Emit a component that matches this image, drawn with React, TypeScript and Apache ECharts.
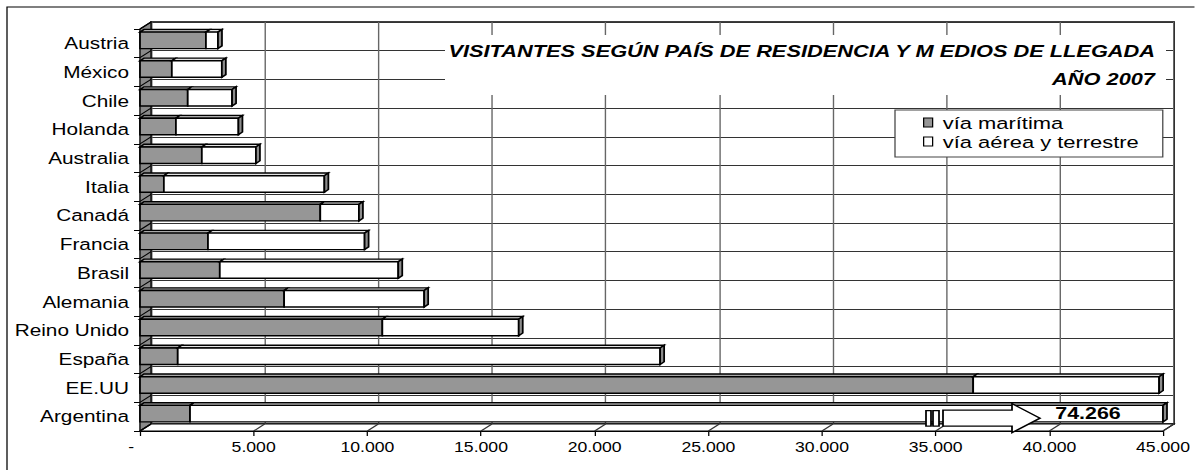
import React, { useEffect, useRef } from 'react';
import * as echarts from 'echarts';

// The reference rendering is horizontally stretched; reproduce with a CSS scaleX.
const S = 1.26;
const W = 1195;
const H = 470;
const CW = W / S;
const px = (X: number) => X / S; // reference x-pixels -> chart units

const FONT = '"Liberation Sans", Arial, Helvetica, sans-serif';

const categories = [
  'Austria', 'México', 'Chile', 'Holanda', 'Australia', 'Italia', 'Canadá',
  'Francia', 'Brasil', 'Alemania', 'Reino Unido', 'España', 'EE.UU', 'Argentina',
];
const maritime = [2900, 1400, 2100, 1580, 2720, 1050, 7930, 2990, 3510, 6340, 10660, 1660, 36650, 2200];
const airLand = [530, 2200, 1950, 2750, 2380, 7060, 1700, 6890, 7850, 6160, 6000, 21220, 8180, 72066];
const xTicks = [0, 5000, 10000, 15000, 20000, 25000, 30000, 35000, 40000, 45000];
const xMin = 0;
const xMax = 45000;
const xInterval = 5000;
const seriesNames = ['vía marítima', 'vía aérea y terrestre'];
const titleLines = ['VISITANTES SEGÚN PAÍS DE RESIDENCIA Y M EDIOS DE LLEGADA', 'AÑO 2007'];

const GRAY = '#969696';
const fmt = (v: number) => String(Math.round(v)).replace(/\B(?=(\d{3})+(?!\d))/g, '.');

// geometry (chart units)
const DX = px(11);
const DY = -7;
const BDX = px(4);
const BDY = -2.7;
const BAR_H = 16.5;
const BAR_SHIFT = -3;

export default function App() {
  const ref = useRef<HTMLDivElement>(null);

  useEffect(() => {
    if (!ref.current) return;
    const chart = echarts.init(ref.current, undefined, { renderer: 'svg' });

    const segData = maritime.map((m, i) => [0, m, i]);
    const airData = maritime.map((m, i) => [m, m + airLand[i], i]);

    const makeBar = (fill: string, topFill: string, isLast: boolean) =>
      (params: any, api: any) => {
        const v0 = api.value(0);
        const v1 = api.value(1);
        const i = api.value(2);
        const p0 = api.coord([v0, i]);
        const p1 = api.coord([Math.min(v1, xMax), i]);
        const yc = p0[1] + BAR_SHIFT;
        const yt = yc - BAR_H / 2;
        const yb = yc + BAR_H / 2;
        const x0 = p0[0];
        const x1 = p1[0];
        const stroke = { stroke: '#000', lineWidth: 1.4 };
        const children: any[] = [
          {
            type: 'polygon',
            shape: { points: [[x0, yt], [x1, yt], [x1 + BDX, yt + BDY], [x0 + BDX, yt + BDY]] },
            style: { fill: topFill, ...stroke },
          },
          { type: 'rect', shape: { x: x0, y: yt, width: x1 - x0, height: BAR_H }, style: { fill, ...stroke } },
        ];
        if (isLast) {
          children.push({
            type: 'polygon',
            shape: { points: [[x1, yt], [x1 + BDX, yt + BDY], [x1 + BDX, yb + BDY], [x1, yb]] },
            style: { fill: '#8c8c8c', ...stroke },
          });
          if (v1 > xMax) {
            const ay = p0[1] + 1.5;
            const xs = x1 - px(220);
            const xh = x1 - px(151);
            const xt = x1 - px(123);
            children.push(
              { type: 'rect', shape: { x: x1 - px(237), y: ay - 7.5, width: px(5), height: 15.5 }, style: { fill: '#fff', ...stroke } },
              { type: 'rect', shape: { x: x1 - px(230), y: ay - 7.5, width: px(6), height: 15.5 }, style: { fill: '#fff', ...stroke } },
              {
                type: 'polygon',
                shape: {
                  points: [[xs, ay - 8], [xh, ay - 8], [xh, ay - 14.5], [xt, ay], [xh, ay + 14.5], [xh, ay + 8], [xs, ay + 8]],
                },
                style: { fill: '#fff', ...stroke },
              },
              {
                type: 'text',
                style: {
                  text: fmt(v1),
                  x: x1 - px(75),
                  y: yc,
                  align: 'center',
                  verticalAlign: 'middle',
                  font: `bold 17px ${FONT}`,
                  fill: '#000',
                },
              },
            );
          }
        }
        return { type: 'group', children };
      };

    const option: any = {
      animation: false,
      backgroundColor: '#fff',
      grid: [
        { left: px(140), top: 29, width: px(1023), height: 402, containLabel: false },
        {
          left: px(151), top: 22, width: px(1023), height: 402, show: true,
          backgroundColor: '#fff', borderColor: '#000', borderWidth: 1.5,
        },
      ],
      xAxis: [
        {
          type: 'value', gridIndex: 0, min: xMin, max: xMax, interval: xInterval,
          axisLine: { show: true, lineStyle: { color: '#000', width: 1.2 } },
          axisTick: { show: true, length: 5, lineStyle: { color: '#000' } },
          splitLine: { show: false },
          axisLabel: {
            margin: 9, color: '#000', fontSize: 14, fontFamily: FONT,
            formatter: (v: number) => (v === 0 ? '{d|-}' : fmt(v)),
            rich: { d: { fontSize: 14, fontFamily: FONT, color: '#000', padding: [0, 14, 0, 0] } },
          },
        },
        {
          type: 'value', gridIndex: 1, min: xMin, max: xMax, interval: xInterval,
          axisLine: { show: false }, axisTick: { show: false }, axisLabel: { show: false },
          splitLine: { show: true, lineStyle: { color: '#666', width: 1.1 } },
        },
      ],
      yAxis: [
        {
          type: 'category', gridIndex: 0, data: categories, inverse: true,
          axisLine: { show: true, lineStyle: { color: '#000', width: 1.2 } },
          axisTick: { show: true, length: px(6), lineStyle: { color: '#000' } },
          axisLabel: { margin: px(11), color: '#000', fontSize: 16.5, fontFamily: FONT },
          splitLine: { show: false },
        },
        {
          type: 'category', gridIndex: 1, data: categories, inverse: true,
          axisLine: { show: false }, axisTick: { show: false }, axisLabel: { show: false },
          splitLine: { show: true, lineStyle: { color: '#333', width: 1 } },
        },
      ],
      legend: {
        data: seriesNames,
        orient: 'vertical',
        left: px(895),
        top: 110,
        padding: [3, px(24), 6, px(28)],
        itemGap: 0,
        itemWidth: px(9),
        itemHeight: 9,
        icon: 'rect',
        backgroundColor: '#fff',
        borderColor: '#444',
        borderWidth: 1,
        borderRadius: 0,
        selectedMode: false,
        itemStyle: { borderColor: '#000', borderWidth: 1 },
        textStyle: { fontSize: 17.4, lineHeight: 19, color: '#000', fontFamily: FONT, padding: [0, 0, 0, 3] },
      },
      graphic: [
        {
          type: 'rect', z: 0, silent: true,
          shape: { x: px(7), y: 7, width: 1400, height: 700 },
          style: { fill: 'none', stroke: '#000', lineWidth: 1 },
        },
        {
          type: 'rect', z: 10, silent: true,
          shape: { x: px(445), y: 35, width: px(1166 - 445), height: 60 },
          style: { fill: '#fff' },
        },
        {
          type: 'text', z: 11, silent: true,
          style: {
            text: titleLines[0], x: px(1155), y: 51, align: 'right', verticalAlign: 'middle',
            font: `italic bold 17.3px ${FONT}`, fill: '#000',
          },
        },
        {
          type: 'text', z: 11, silent: true,
          style: {
            text: titleLines[1], x: px(1155), y: 79, align: 'right', verticalAlign: 'middle',
            font: `italic bold 17.3px ${FONT}`, fill: '#000',
          },
        },
      ],
      series: [
        {
          name: 'walls', type: 'custom', xAxisIndex: 0, yAxisIndex: 0, z: 1, silent: true,
          data: [[0, 0]],
          renderItem: (params: any, api: any) => {
            const cs = params.coordSys;
            const x0 = cs.x, x1 = cs.x + cs.width, y0 = cs.y, y1 = cs.y + cs.height;
            const children: any[] = [
              {
                type: 'polygon',
                shape: { points: [[x0, y0], [x0 + DX, y0 + DY], [x0 + DX, y1 + DY], [x0, y1]] },
                style: { fill: '#8a8a8a', stroke: '#000', lineWidth: 1 },
              },
              {
                type: 'polygon',
                shape: { points: [[x0, y1], [x1, y1], [x1 + DX, y1 + DY], [x0 + DX, y1 + DY]] },
                style: { fill: '#fff', stroke: '#000', lineWidth: 1 },
              },
            ];
            xTicks.forEach((v) => {
              const x = api.coord([v, 0])[0];
              children.push({
                type: 'line', shape: { x1: x, y1: y1, x2: x + DX, y2: y1 + DY },
                style: { stroke: '#333', lineWidth: 1 },
              });
            });
            const band = cs.height / categories.length;
            for (let k = 0; k <= categories.length; k++) {
              const y = y0 + k * band;
              children.push({
                type: 'line', shape: { x1: x0, y1: y, x2: x0 + DX, y2: y + DY },
                style: { stroke: '#000', lineWidth: 1 },
              });
            }
            return { type: 'group', children };
          },
        },
        {
          name: seriesNames[0], type: 'custom', xAxisIndex: 0, yAxisIndex: 0, z: 2,
          itemStyle: { color: GRAY },
          encode: { x: [0, 1], y: 2 },
          data: segData,
          renderItem: makeBar(GRAY, '#a8a8a8', false),
        },
        {
          name: seriesNames[1], type: 'custom', xAxisIndex: 0, yAxisIndex: 0, z: 3,
          itemStyle: { color: '#fff' },
          encode: { x: [0, 1], y: 2 },
          data: airData,
          renderItem: makeBar('#fff', '#e4e4e4', true),
        },
      ],
    };

    chart.setOption(option);
    return () => chart.dispose();
  }, []);

  return (
    <div style={{ position: 'absolute', left: 0, top: 0, width: W, height: H, overflow: 'hidden', background: '#fff' }}>
      <div
        ref={ref}
        style={{ width: CW, height: H, transform: `scaleX(${S})`, transformOrigin: '0 0' }}
      />
    </div>
  );
}
